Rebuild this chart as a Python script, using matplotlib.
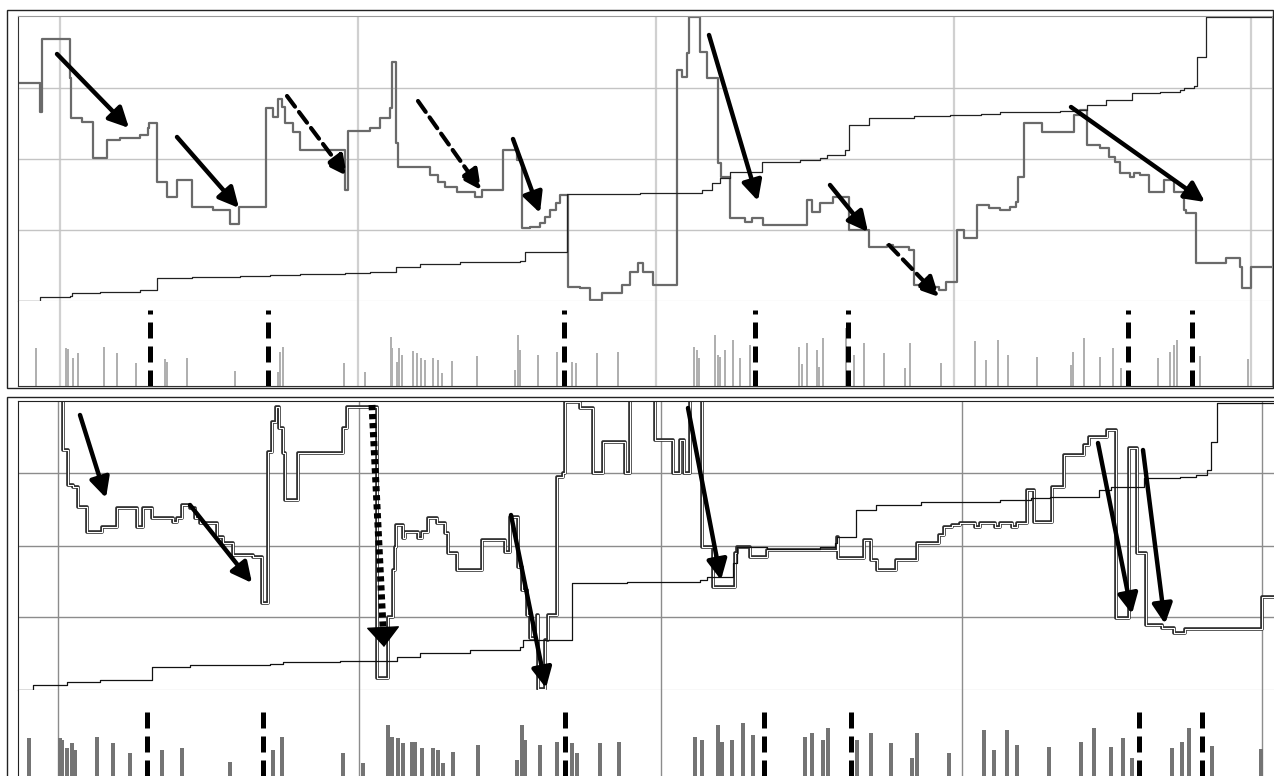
import matplotlib
matplotlib.use("Agg")
import matplotlib.pyplot as plt
from matplotlib.patches import Rectangle

W, H = 1274, 776

# ---- top panel data (x = bar index, y = level) ----
top_price = [(19, 218), (40, 189), (42, 262), (70, 223), (71, 183), (82, 179), (93, 143), (107, 161),
             (120, 163), (140, 166), (148, 173), (149, 178), (157, 119), (167, 104), (177, 121), (192, 94),
             (213, 91), (230, 77), (239, 94), (266, 193), (273, 184), (278, 202), (282, 194), (285, 178),
             (293, 169), (300, 151), (345, 111), (348, 170), (370, 173), (380, 183), (390, 193), (392, 239),
             (396, 158), (398, 134), (430, 126), (438, 119), (445, 114), (457, 109), (475, 104), (482, 111),
             (503, 151), (517, 141), (522, 73), (530, 74), (540, 78), (545, 84), (550, 91), (556, 98),
             (560, 106), (568, 14), (580, 13), (590, 1), (602, 8), (622, 16), (630, 29), (638, 38),
             (643, 29), (653, 16), (677, 231), (682, 224), (687, 248), (689, 284), (700, 249), (707, 223),
             (718, 138), (721, 124), (730, 83), (745, 79), (752, 83), (763, 76), (807, 101), (812, 89),
             (820, 98), (833, 104), (849, 71), (869, 54), (887, 56), (893, 54), (909, 51), (914, 16),
             (920, 14), (939, 11), (946, 19), (957, 71), (964, 63), (977, 96), (989, 93), (1000, 91),
             (1010, 94), (1016, 99), (1018, 124), (1024, 178), (1042, 169), (1074, 186), (1080, 191),
             (1087, 156), (1100, 153), (1109, 144), (1115, 139), (1120, 128), (1130, 124), (1134, 128),
             (1140, 126), (1149, 109), (1164, 121), (1174, 109), (1183, 103), (1184, 91), (1186, 88),
             (1196, 38), (1226, 43), (1240, 34), (1242, 13), (1251, 34), (1272, 34)]

top_trend = [(18, 0), (40, 4), (70, 5), (72, 8), (100, 9), (140, 11), (157, 23), (192, 24), (240, 25),
             (270, 26), (300, 27), (345, 28), (370, 29), (396, 34), (420, 37), (460, 39), (520, 40),
             (525, 49), (567, 107), (640, 108), (702, 111), (712, 118), (720, 123), (730, 129), (762, 139),
             (800, 141), (820, 143), (827, 146), (845, 151), (849, 176), (869, 183), (914, 185), (950, 186),
             (981, 187), (1000, 189), (1060, 190), (1074, 191), (1087, 196), (1106, 201), (1132, 208),
             (1160, 209), (1180, 211), (1184, 213), (1194, 215), (1197, 244), (1206, 284), (1272, 284)]

# (start, end, style)
top_arrows = [((57, 247), (129, 173), "solid"), ((177, 164), (239, 93), "solid"),
              ((287, 205), (347, 125), "dashed"), ((418, 200), (481, 111), "dashed"),
              ((513, 162), (540, 88), "solid"), ((709, 266), (758, 100), "solid"),
              ((830, 116), (868, 69), "solid"), ((889, 56), (939, 4), "dashed"),
              ((1071, 194), (1205, 99), "solid")]

top_signals = [150, 268, 564, 755, 848, 1128, 1192]

top_volume = [(36, 38), (66, 38), (68, 37), (73, 28), (78, 33), (104, 39), (117, 33), (136, 23), (165, 27),
              (167, 24), (187, 28), (235, 15), (278, 14), (280, 34), (283, 39), (344, 23), (365, 14),
              (391, 49), (392, 38), (397, 24), (399, 38), (402, 31), (413, 35), (417, 33), (421, 28),
              (425, 26), (433, 28), (438, 26), (442, 13), (452, 25), (477, 30), (515, 16), (518, 51),
              (520, 36), (538, 31), (557, 34), (572, 24), (576, 23), (597, 33), (618, 34), (694, 39),
              (697, 36), (699, 28), (715, 51), (718, 31), (720, 29), (725, 36), (733, 46), (740, 28),
              (750, 41), (799, 39), (802, 22), (807, 43), (817, 36), (819, 19), (823, 48), (846, 58),
              (854, 31), (864, 43), (884, 33), (905, 18), (910, 43), (941, 23), (975, 45), (986, 26),
              (998, 46), (1008, 31), (1037, 29), (1071, 21), (1073, 34), (1084, 48), (1100, 29),
              (1113, 38), (1121, 18), (1158, 28), (1170, 34), (1174, 41), (1177, 46), (1200, 30), (1248, 27)]

# ---- bottom panel data ----
bot_price = [(56, 320), (63, 240), (68, 205), (73, 203), (78, 183), (87, 158), (102, 163), (117, 182),
             (137, 163), (143, 182), (152, 172), (173, 168), (177, 172), (182, 185), (190, 182), (195, 172),
             (200, 167), (217, 153), (223, 147), (233, 135), (253, 133), (262, 87), (268, 238), (272, 268),
             (276, 283), (279, 262), (283, 237), (285, 190), (298, 237), (343, 262), (347, 283), (377, 12),
             (388, 73), (393, 120), (395, 143), (396, 165), (403, 152), (405, 158), (418, 152), (422, 158),
             (428, 172), (437, 167), (445, 157), (448, 137), (457, 120), (482, 150), (505, 138), (510, 173),
             (518, 123), (522, 100), (527, 75), (530, 52), (537, 75), (538, 1), (545, 50), (548, 75),
             (557, 213), (563, 217), (565, 288), (580, 282), (593, 217), (603, 248), (625, 217), (630, 300),
             (655, 250), (673, 217), (680, 250), (684, 217), (690, 300), (702, 143), (713, 103), (735, 137),
             (737, 143), (750, 133), (767, 140), (837, 153), (838, 132), (864, 150), (871, 130), (877, 120),
             (896, 130), (917, 147), (939, 155), (944, 163), (952, 165), (960, 167), (975, 163), (980, 167),
             (995, 163), (1000, 167), (1012, 163), (1017, 167), (1027, 200), (1034, 168), (1052, 203),
             (1064, 235), (1084, 245), (1089, 253), (1107, 260), (1116, 72), (1129, 242), (1137, 137),
             (1146, 65), (1162, 62), (1174, 57), (1185, 61), (1262, 93), (1280, 93)]

bot_trend = [(18, 0), (33, 5), (67, 8), (100, 10), (152, 23), (190, 25), (270, 26), (283, 28), (340, 29),
             (397, 33), (420, 37), (470, 40), (520, 43), (523, 50), (572, 107), (627, 108), (700, 110),
             (707, 113), (733, 127), (737, 143), (767, 141), (820, 143), (835, 147), (837, 153), (856, 180),
             (876, 185), (921, 188), (1000, 190), (1031, 192), (1050, 193), (1099, 200), (1111, 203),
             (1144, 212), (1180, 213), (1196, 215), (1207, 220), (1211, 248), (1217, 287), (1280, 287)]

bot_arrows = [((80, 275), (106, 192), "solid"), ((190, 185), (252, 107), "solid"),
              ((372, 285), (384, 43), "dotted"), ((511, 175), (546, 2), "solid"),
              ((688, 282), (721, 110), "solid"), ((1098, 247), (1132, 76), "solid"),
              ((1143, 240), (1165, 66), "solid")]

bot_signals = [147, 263, 565, 764, 851, 1139, 1202]

bot_volume = [(29, 38), (60, 38), (62, 36), (67, 28), (72, 33), (75, 26), (97, 39), (113, 33), (130, 23),
              (162, 26), (182, 28), (230, 14), (273, 26), (282, 39), (343, 23), (363, 13), (388, 51),
              (392, 39), (398, 38), (403, 33), (412, 34), (415, 34), (422, 28), (433, 28), (438, 26),
              (443, 13), (453, 24), (478, 31), (517, 16), (522, 51), (525, 36), (540, 31), (557, 34),
              (572, 33), (577, 23), (600, 33), (619, 34), (695, 39), (702, 36), (718, 51), (722, 34),
              (732, 36), (743, 53), (753, 41), (805, 39), (812, 43), (823, 36), (828, 48), (857, 36),
              (871, 43), (891, 33), (912, 18), (917, 43), (949, 23), (984, 46), (994, 26), (1007, 46),
              (1017, 31), (1049, 29), (1081, 34), (1094, 48), (1111, 29), (1123, 38), (1132, 18),
              (1172, 28), (1182, 34), (1189, 48), (1212, 30), (1261, 27)]

top_grid_x = [60, 358, 656, 954, 1251]
top_grid_y = [71, 142, 213]
bot_grid_x = [58, 359, 661, 962, 1262]
bot_grid_y = [73, 144, 217]


def rect(l, t, r, b):
    return [l / W, 1 - b / H, (r - l) / W, (b - t) / H]


def clean(ax, gx, gy, gcolor, glw):
    ax.set_xticks(gx)
    ax.set_yticks(gy)
    ax.tick_params(length=0, labelbottom=False, labelleft=False)
    ax.grid(True, color=gcolor, lw=glw)
    ax.set_axisbelow(True)


def draw_arrows(ax, arrows):
    for start, end, style in arrows:
        if style == "dotted":
            # thick dotted shaft, big head drawn separately
            frac = 0.93
            mid = (start[0] + (end[0] - start[0]) * frac, start[1] + (end[1] - start[1]) * frac)
            ax.plot([start[0], mid[0]], [start[1], mid[1]], color="black", lw=5.0,
                    linestyle=(0, (0.75, 0.55)), dash_capstyle="butt", clip_on=False, zorder=5)
            ax.annotate("", xy=end, xytext=mid, annotation_clip=False,
                        arrowprops=dict(arrowstyle="-|>,head_length=0.6,head_width=0.5", color="black",
                                        lw=1, shrinkA=0, shrinkB=0, mutation_scale=22))
            continue
        if style == "dashed":
            ls, lw = (0, (3.2, 1.6)), 3.0
        else:
            ls, lw = "-", 3.2
        ax.annotate("", xy=end, xytext=start, annotation_clip=False,
                    arrowprops=dict(arrowstyle="-|>,head_length=0.6,head_width=0.3", color="black",
                                    lw=lw, linestyle=ls, shrinkA=0, shrinkB=0, mutation_scale=20))


fig = plt.figure(figsize=(W / 100, H / 100), dpi=100)
fig.patch.set_facecolor("white")

# ---------------- top panel ----------------
ax1 = fig.add_axes(rect(18, 16, 1272, 301))
ax1.set_xlim(18, 1272)
ax1.set_ylim(0, 285)
clean(ax1, top_grid_x, top_grid_y, "#c4c4c4", 1.0)
ax1.grid(True, axis="x", color="#d0d0d0", lw=1.6)
px, py = zip(*top_price)
ax1.step(px, py, where="post", color="#6a6a6a", lw=1.6)
tx, ty = zip(*top_trend)
ax1.step(tx, ty, where="post", color="#222222", lw=0.9)
draw_arrows(ax1, top_arrows)
for s in ["top", "right"]:
    ax1.spines[s].set_color("#999999")
ax1.spines["left"].set_color("#333333")
ax1.spines["bottom"].set_color("#c4c4c4")

ax1b = fig.add_axes(rect(18, 301, 1272, 386))
ax1b.set_xlim(18, 1272)
ax1b.set_ylim(0, 85)
clean(ax1b, top_grid_x, [], "#d0d0d0", 1.6)
vx, vh = zip(*top_volume)
ax1b.bar(vx, vh, width=2.4, color="#b0b0b0", zorder=2)
ax1b.vlines(top_signals, 0, 76, colors="black", lw=3.6, linestyles=[(0, (3.2, 1.6))], zorder=3)
ax1b.spines["top"].set_visible(False)
ax1b.spines["left"].set_color("#333333")
ax1b.spines["bottom"].set_color("#333333")
ax1b.spines["right"].set_color("#999999")

# ---------------- bottom panel ----------------
ax2 = fig.add_axes(rect(18, 401, 1280, 690))
ax2.set_xlim(18, 1280)
ax2.set_ylim(0, 289)
clean(ax2, bot_grid_x, bot_grid_y, "#8c8c8c", 1.0)
bx, by = zip(*bot_price)
ax2.step(bx, by, where="post", color="#2a2a2a", lw=2.6)
ax2.step(bx, by, where="post", color="white", lw=0.8)
btx, bty = zip(*bot_trend)
ax2.step(btx, bty, where="post", color="#111111", lw=0.9)
draw_arrows(ax2, bot_arrows)
ax2.spines["top"].set_color("#222222")
ax2.spines["left"].set_color("#222222")
ax2.spines["bottom"].set_color("#8c8c8c")

ax2b = fig.add_axes(rect(18, 690, 1280, 776))
ax2b.set_xlim(18, 1280)
ax2b.set_ylim(0, 86)
clean(ax2b, bot_grid_x, [], "#8c8c8c", 1.0)
wx, wh = zip(*bot_volume)
ax2b.bar(wx, wh, width=3.4, color="#747474", zorder=2)
ax2b.vlines(bot_signals, 0, 71, colors="black", lw=3.6, linestyles=[(0, (3.2, 1.6))], zorder=3)
ax2b.spines["top"].set_visible(False)
ax2b.spines["bottom"].set_visible(False)
ax2b.spines["left"].set_color("#222222")

# outer borders of both panels
fig.add_artist(Rectangle((7 / W, 1 - 388 / H), 1266 / W, 378 / H, transform=fig.transFigure,
                         fill=False, ec="#222222", lw=1.0))
fig.add_artist(Rectangle((7 / W, -0.05), 1.1, 1 - 397 / H + 0.05, transform=fig.transFigure,
                         fill=False, ec="#222222", lw=1.0))

fig.savefig("out.png", dpi=100, facecolor="white")
